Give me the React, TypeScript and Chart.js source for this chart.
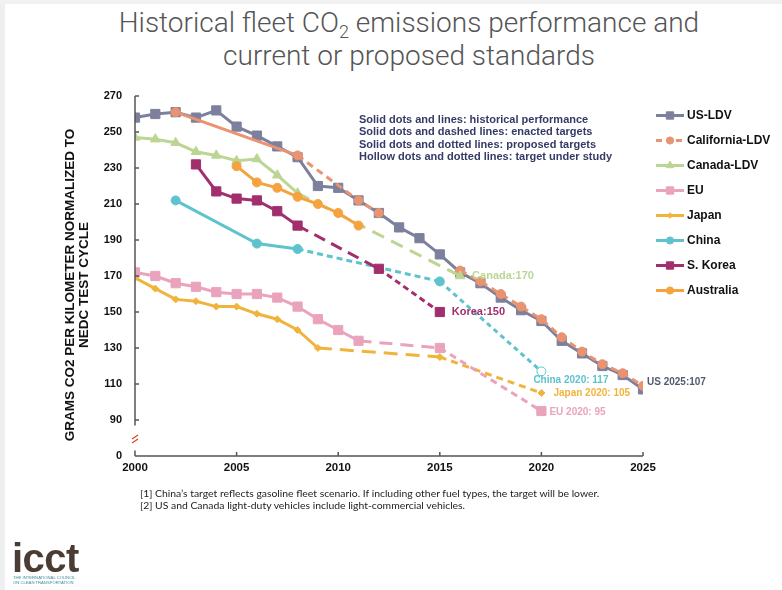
import React, { useEffect, useRef } from "react";
import { Chart, registerables } from "chart.js";
import { drawPoint } from "chart.js/helpers";

Chart.register(...registerables);

// ---------------- data ----------------
const X_TICKS = [2000, 2005, 2010, 2015, 2020, 2025];
const Y_TICK_VALUES = [70, 90, 110, 130, 150, 170, 190, 210, 230, 250, 270];
const Y_TICK_LABELS = ["0", "90", "110", "130", "150", "170", "190", "210", "230", "250", "270"];

const SERIES_NAMES = ["US-LDV", "California-LDV", "Canada-LDV", "EU", "Japan", "China", "S. Korea", "Australia"];

const US_YEARS = [2000, 2001, 2002, 2003, 2004, 2005, 2006, 2007, 2008, 2009, 2010, 2011, 2012, 2013, 2014, 2015, 2016, 2017, 2018, 2019, 2020, 2021, 2022, 2023, 2024, 2025];
const US_VALUES = [258, 260, 261, 258, 262, 253, 248, 242, 236, 220, 219, 212, 205, 197, 191, 182, 172, 166, 158, 151, 145, 134, 127, 120, 115, 107];

const CA_YEARS = [2002, 2008, 2011, 2012, 2013, 2016, 2017, 2018, 2019, 2020, 2021, 2022, 2023, 2024, 2025];
const CA_VALUES = [261, 237, 212, 205, null, 173, 167, 160, 153, 146, 136, 128, 121, 116, 109];

const CANADA_YEARS = [2000, 2001, 2002, 2003, 2004, 2005, 2006, 2007, 2008, 2016];
const CANADA_VALUES = [247, 246, 244, 239, 237, 234, 235, 226, 216, 170];

const EU_YEARS = [2000, 2001, 2002, 2003, 2004, 2005, 2006, 2007, 2008, 2009, 2010, 2011, 2015, 2020];
const EU_VALUES = [172, 170, 166, 164, 161, 160, 160, 158, 153, 146, 140, 134, 130, 95];

const JAPAN_YEARS = [2000, 2001, 2002, 2003, 2004, 2005, 2006, 2007, 2008, 2009, 2015, 2020];
const JAPAN_VALUES = [169, 163, 157, 156, 153, 153, 149, 146, 140, 130, 125, 105];

const CHINA_YEARS = [2002, 2006, 2008, 2015, 2020];
const CHINA_VALUES = [212, 188, 185, 167, 117];

const KOREA_YEARS = [2003, 2004, 2005, 2006, 2007, 2008, 2012, 2015];
const KOREA_VALUES = [232, 217, 213, 212, 206, 198, 174, 150];

const AUSTRALIA_YEARS = [2005, 2006, 2007, 2008, 2009, 2010, 2011];
const AUSTRALIA_VALUES = [231, 222, 219, 214, 210, 205, 198];

const TARGET_LABEL_TEXTS = ["Canada:170", "Korea:150", "China 2020: 117", "Japan 2020: 105", "EU 2020: 95", "US 2025:107"];
const TARGET_LABEL_YEARS = [2016, 2015, 2020, 2020, 2020, 2025];
const TARGET_LABEL_VALUES = [170, 150, 117, 105, 95, 107];

const NOTE_LINES = [
  "Solid dots and lines: historical performance",
  "Solid dots and dashed lines: enacted targets",
  "Solid dots and dotted lines: proposed targets",
  "Hollow dots and dotted lines: target under study",
];

const FOOTNOTES = [
  "[1] China\u2019s target reflects gasoline fleet scenario. If including other fuel types, the target will be lower.",
  "[2] US and Canada light-duty vehicles include light-commercial vehicles.",
];

// ---------------- styles ----------------
const COLORS = ["#7c809d", "#ea9370", "#bcd593", "#eaa3bd", "#f0b43c", "#5ec3cd", "#a22f6d", "#f4a33e"];
const POINT_STYLES = ["rect", "circle", "triangle", "rect", "rectRot", "circle", "rect", "circle"];
const POINT_RADII = [6.5, 4.5, 5.5, 6.5, 3.5, 4.5, 6.5, 4.5];
const DRAW_ORDER = [7, 6, 4, 2, 3, 1, 0, 1];
// [fromYear, dash] : segments starting at or after fromYear use dash
const DASH_RULES: [number, number[]][][] = [
  [],
  [[2008, [7, 5]]],
  [[2008, [13, 8]]],
  [[2011, [13, 8]], [2015, [7, 5]]],
  [[2009, [14, 8]], [2015, [7, 5]]],
  [[2008, [6, 4]], [2015, [5, 4]]],
  [[2008, [12, 7]], [2012, [6, 4]]],
  [],
];
const LEGEND_DASH = [[], [6, 4], [], [], [], [], [], []];
const HOLLOW_FROM = [9999, 9999, 9999, 9999, 9999, 2020, 9999, 9999];

const LABEL_STYLE = [
  { dx: 12, dy: 0, color: "#bcd593", font: "bold 11px 'Liberation Sans', Arial, sans-serif" },
  { dx: 12, dy: 0, color: "#a22f6d", font: "bold 11px 'Liberation Sans', Arial, sans-serif" },
  { dx: -8, dy: 9, color: "#5ec3cd", font: "bold 10px 'Liberation Sans', Arial, sans-serif" },
  { dx: 12, dy: 0, color: "#f0b43c", font: "bold 10px 'Liberation Sans', Arial, sans-serif" },
  { dx: 8, dy: 1, color: "#eaa3bd", font: "bold 10px 'Liberation Sans', Arial, sans-serif" },
  { dx: 4, dy: -7, color: "#55596e", font: "bold 10px 'Liberation Sans', Arial, sans-serif" },
];

const AXIS_COLOR = "#555555";
const FONT = "'Liberation Sans', Arial, Helvetica, sans-serif";

const SERIES_X = [US_YEARS, CA_YEARS, CANADA_YEARS, EU_YEARS, JAPAN_YEARS, CHINA_YEARS, KOREA_YEARS, AUSTRALIA_YEARS];
const SERIES_Y = [US_VALUES, CA_VALUES, CANADA_VALUES, EU_VALUES, JAPAN_VALUES, CHINA_VALUES, KOREA_VALUES, AUSTRALIA_VALUES];

function dashFor(rules: [number, number[]][], x0: number) {
  let d: number[] | undefined = undefined;
  for (const [from, dash] of rules) if (x0 >= from - 1e-6) d = dash;
  return d;
}

const overlayPlugin = {
  id: "overlay",
  afterDraw(chart: any) {
    const { ctx, chartArea, scales } = chart;
    const { left, right, top, bottom } = chartArea;
    const x = scales.x;
    const y = scales.y;
    ctx.save();
    // axes
    ctx.strokeStyle = AXIS_COLOR;
    ctx.lineWidth = 1.5;
    ctx.setLineDash([]);
    ctx.beginPath();
    ctx.moveTo(left, top);
    ctx.lineTo(left, y.getPixelForValue(87));
    ctx.moveTo(left, y.getPixelForValue(73));
    ctx.lineTo(left, bottom);
    ctx.moveTo(left, bottom);
    ctx.lineTo(right, bottom);
    for (const t of y.ticks) {
      const py = y.getPixelForValue(t.value);
      ctx.moveTo(left, py);
      ctx.lineTo(left + 4, py);
    }
    for (const t of x.ticks) {
      const px = x.getPixelForValue(t.value);
      ctx.moveTo(px, bottom);
      ctx.lineTo(px, bottom - 4);
    }
    ctx.stroke();
    // axis break
    const yb = y.getPixelForValue(79.5);
    ctx.strokeStyle = "#d8402c";
    ctx.lineWidth = 1.2;
    ctx.beginPath();
    ctx.moveTo(left - 3, yb);
    ctx.lineTo(left + 3, yb - 4);
    ctx.moveTo(left - 3, yb + 4);
    ctx.lineTo(left + 3, yb);
    ctx.stroke();

    // target labels
    ctx.textBaseline = "middle";
    ctx.textAlign = "left";
    TARGET_LABEL_TEXTS.forEach((txt, i) => {
      const st = LABEL_STYLE[i];
      ctx.font = st.font;
      ctx.fillStyle = st.color;
      const px = x.getPixelForValue(TARGET_LABEL_YEARS[i]) + st.dx;
      const py = y.getPixelForValue(TARGET_LABEL_VALUES[i]) + st.dy;
      ctx.fillText(txt, px, py);
    });

    // legend
    const lx0 = 656, lx1 = 684, lmx = 670, ltx = 687, ly0 = 115.5, lstep = 25;
    chart.data.datasets.forEach((ds: any, i: number) => {
      const ly = ly0 + i * lstep;
      ctx.strokeStyle = ds.borderColor;
      ctx.lineWidth = 3;
      ctx.setLineDash(LEGEND_DASH[i]);
      ctx.beginPath();
      ctx.moveTo(lx0, ly);
      ctx.lineTo(lx1, ly);
      ctx.stroke();
      ctx.setLineDash([]);
      ctx.fillStyle = ds.borderColor;
      ctx.strokeStyle = ds.borderColor;
      ctx.lineWidth = 1;
      drawPoint(ctx, { pointStyle: ds.pointStyle, radius: ds.pointRadius * 0.8, rotation: 0, borderWidth: 1 }, lmx, ly);
      ctx.fillStyle = "#111";
      ctx.font = "bold 12px " + FONT;
      ctx.textBaseline = "middle";
      ctx.fillText(ds.label, ltx, ly + 0.5);
    });
    ctx.restore();
  },
};

export default function App() {
  const ref = useRef<HTMLCanvasElement>(null);
  useEffect(() => {
    const canvas = ref.current!;
    const datasets = SERIES_NAMES.map((name, i) => {
      const xs = SERIES_X[i];
      const ys = SERIES_Y[i];
      const color = COLORS[i];
      return {
        label: name,
        data: xs.map((yr, j) => ({ x: yr, y: ys[j] })),
        borderColor: color,
        backgroundColor: color,
        borderWidth: 3,
        pointStyle: POINT_STYLES[i],
        pointRadius: POINT_RADII[i],
        pointBorderWidth: 1,
        pointBorderColor: color,
        pointBackgroundColor: xs.map((yr) => (yr >= HOLLOW_FROM[i] ? "#ffffff" : color)),
        order: DRAW_ORDER[i],
        tension: 0,
        spanGaps: false,
        segment: {
          borderDash: (ctx: any) => dashFor(DASH_RULES[i], ctx.p0.parsed.x),
        },
      };
    });
    const chart = new Chart(canvas, {
      type: "line",
      data: { datasets } as any,
      options: {
        responsive: false,
        animation: false,
        devicePixelRatio: 1,
        events: [],
        layout: { padding: { top: 96, right: 139, left: 0, bottom: 0 } },
        plugins: { legend: { display: false }, tooltip: { enabled: false }, title: { display: false } },
        scales: {
          x: {
            type: "linear",
            min: 2000,
            max: 2025,
            afterBuildTicks: (s: any) => {
              s.ticks = X_TICKS.map((v) => ({ value: v }));
            },
            afterFit: (s: any) => {
              s.height = 134;
            },
            grid: { display: false, drawTicks: false },
            border: { display: false },
            ticks: {
              callback: (v: any) => String(v),
              color: "#111",
              font: { family: FONT, size: 11.5, weight: "bold" },
              padding: 5,
              maxRotation: 0,
              autoSkip: false,
            },
          },
          y: {
            type: "linear",
            min: 70,
            max: 270,
            afterBuildTicks: (s: any) => {
              s.ticks = Y_TICK_VALUES.map((v) => ({ value: v }));
            },
            afterFit: (s: any) => {
              s.width = 135;
            },
            grid: { display: false, drawTicks: false },
            border: { display: false },
            ticks: {
              callback: (v: any) => Y_TICK_LABELS[Y_TICK_VALUES.indexOf(v)] ?? "",
              color: "#111",
              font: { family: FONT, size: 11, weight: "bold" },
              padding: 13,
              autoSkip: false,
            },
          },
        },
      } as any,
      plugins: [overlayPlugin],
    });
    return () => chart.destroy();
  }, []);

  return (
    <div style={{ position: "absolute", left: 0, top: 0, width: 782, height: 590, background: "#fff", overflow: "hidden", fontFamily: FONT }}>
      <div style={{ position: "absolute", left: 0, top: 0, width: 5, height: 590, background: "#efefef" }} />
      <div style={{ position: "absolute", left: 0, top: 0, width: 782, height: 4, background: "#f1f1f1" }} />
      <div style={{ position: "absolute", left: 0, top: 6, width: 818, textAlign: "center", fontSize: 28, lineHeight: "33px", color: "#555", fontWeight: 300, fontFamily: "Roboto, 'Liberation Sans', sans-serif" }}>
        <div>
          Historical fleet CO<sub style={{ fontSize: 18, lineHeight: 0, verticalAlign: "-6px" }}>2</sub> emissions performance and
        </div>
        <div>current or proposed standards</div>
      </div>
      <canvas ref={ref} width={782} height={590} style={{ position: "absolute", left: 0, top: 0, width: 782, height: 590 }} />
      <div
        style={{
          position: "absolute",
          left: 77 - 180,
          top: 285 - 14,
          width: 360,
          height: 28,
          transform: "rotate(-90deg)",
          transformOrigin: "50% 50%",
          textAlign: "center",
          fontSize: 13.5,
          lineHeight: "14px",
          fontWeight: 700,
          color: "#111",
          whiteSpace: "nowrap",
        }}
      >
        <div>GRAMS CO2 PER KILOMETER NORMALIZED TO</div>
        <div>NEDC TEST CYCLE</div>
      </div>
      <div style={{ position: "absolute", left: 359, top: 113, fontSize: 11, lineHeight: "12.3px", fontWeight: 700, color: "#353a66", whiteSpace: "nowrap" }}>
        {NOTE_LINES.map((t, i) => (
          <div key={i}>{t}</div>
        ))}
      </div>
      <div style={{ position: "absolute", left: 140, top: 487, fontSize: 10.4, lineHeight: "12px", fontFamily: "Lato, 'Open Sans', sans-serif", color: "#222", whiteSpace: "nowrap" }}>
        {FOOTNOTES.map((t, i) => (
          <div key={i}>{t}</div>
        ))}
      </div>
      <div style={{ position: "absolute", left: 12, top: 538, fontSize: 40, lineHeight: "40px", fontWeight: 700, color: "#4a3c33", letterSpacing: -0.5 }}>icct</div>
      <div style={{ position: "absolute", left: 13, top: 576, fontSize: 4.2, lineHeight: "4.6px", color: "#3d8b9a", whiteSpace: "nowrap" }}>
        <div>THE INTERNATIONAL COUNCIL</div>
        <div>ON CLEAN TRANSPORTATION</div>
      </div>
    </div>
  );
}
